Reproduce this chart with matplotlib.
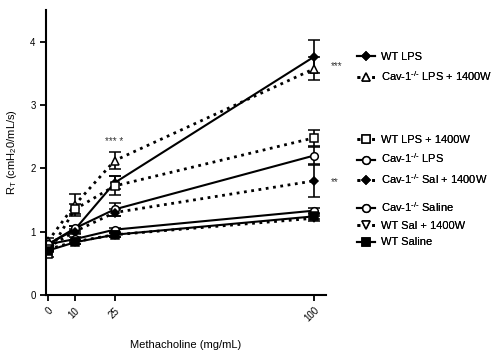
import numpy as np
import matplotlib
matplotlib.use("Agg")
import matplotlib.pyplot as plt

plt.rcParams['font.family'] = ['Liberation Sans', 'DejaVu Sans']
plt.rcParams['font.stretch'] = 'normal'
plt.rcParams['mathtext.fontset'] = 'custom'
plt.rcParams['mathtext.rm'] = 'Liberation Sans'
plt.rcParams['mathtext.it'] = 'Liberation Sans'
plt.rcParams['mathtext.default'] = 'regular'

dose = [0, 10, 25, 100]

wt_lps = [0.80, 1.03, 1.77, 3.76]
wt_lps_err = [0.04, 0.05, 0.10, 0.26]
cav_lps_1400w = [0.85, 1.42, 2.12, 3.57]
cav_lps_1400w_err = [0.05, 0.17, 0.13, 0.18]
wt_lps_1400w = [0.65, 1.35, 1.72, 2.48]
wt_lps_1400w_err = [0.05, 0.08, 0.15, 0.13]
cav_lps = [0.80, 1.05, 1.35, 2.20]
cav_lps_err = [0.04, 0.04, 0.10, 0.14]
cav_sal_1400w = [0.75, 1.00, 1.30, 1.80]
cav_sal_1400w_err = [0.04, 0.04, 0.06, 0.25]
cav_saline = [0.80, 0.88, 1.03, 1.33]
cav_saline_err = [0.03, 0.03, 0.03, 0.04]
wt_sal_1400w = [0.72, 0.84, 0.95, 1.21]
wt_sal_1400w_err = [0.03, 0.03, 0.03, 0.04]
wt_saline = [0.70, 0.83, 0.95, 1.24]
wt_saline_err = [0.03, 0.03, 0.03, 0.04]

ko = '$^{\u2010/\u2010}$'

fig = plt.figure(figsize=(5.0, 3.54), dpi=100)
ax = fig.add_axes([0.092, 0.167, 0.56, 0.805])

def draw(y, err, marker, face, ls, label):
    lw = 1.5 if ls == '-' else 2.0
    ms = 4.5 if marker == 'D' else 5.5
    h = ax.errorbar(dose, y, yerr=err, color='black', marker=marker,
                    markerfacecolor=face, markeredgecolor='black',
                    markersize=ms, markeredgewidth=1.1, linestyle=ls,
                    linewidth=lw, elinewidth=1.2, capsize=4, capthick=1.2)
    return (h[0], label)

h1 = draw(wt_lps, wt_lps_err, 'D', 'black', '-', 'WT LPS')
h2 = draw(cav_lps_1400w, cav_lps_1400w_err, '^', 'white', ':', 'Cav-1' + ko + ' LPS + 1400W')
h3 = draw(wt_lps_1400w, wt_lps_1400w_err, 's', 'white', ':', 'WT LPS + 1400W')
h4 = draw(cav_lps, cav_lps_err, 'o', 'white', '-', 'Cav-1' + ko + ' LPS')
h5 = draw(cav_sal_1400w, cav_sal_1400w_err, 'D', 'black', ':', 'Cav-1' + ko + ' Sal + 1400W')
h6 = draw(cav_saline, cav_saline_err, 'o', 'white', '-', 'Cav-1' + ko + ' Saline')
h7 = draw(wt_sal_1400w, wt_sal_1400w_err, 'v', 'white', ':', 'WT Sal + 1400W')
h8 = draw(wt_saline, wt_saline_err, 's', 'black', '-', 'WT Saline')

ax.set_xlim(-0.8, 104.5)
ax.set_ylim(0, 4.5)
ax.set_xticks(dose)
ax.set_xticklabels([str(d) for d in dose], rotation=45, fontsize=7,
                   ha='right', rotation_mode='anchor')
ax.set_yticks([0, 1, 2, 3, 4])
ax.tick_params(labelsize=7, width=1.3, length=4)
for s in ['top', 'right']:
    ax.spines[s].set_visible(False)
for s in ['left', 'bottom']:
    ax.spines[s].set_linewidth(1.5)

ax.set_xlabel('Methacholine (mg/mL)', fontsize=8, labelpad=12)
ax.set_ylabel('R$_T$ (cmH$_2$0/mL/s)', fontsize=8, labelpad=8)

ax.text(25, 2.33, '*** *', fontsize=7, ha='center', va='bottom', color='#333333')
ax.text(106.5, 3.62, '***', fontsize=7, ha='left', va='center', color='#333333', clip_on=False)
ax.text(106.5, 1.78, '**', fontsize=7, ha='left', va='center', color='#333333', clip_on=False)

groups = [([h1, h2], 0.866), ([h3, h4, h5], 0.632), ([h6, h7, h8], 0.448)]
for entries, top in groups:
    leg = fig.legend([e[0] for e in entries], [e[1] for e in entries],
                     loc='upper left', bbox_to_anchor=(0.705, top),
                     frameon=False, fontsize=8, handlelength=1.6,
                     handletextpad=0.6, labelspacing=0.62, borderaxespad=0)
    fig.add_artist(leg)

fig.savefig('out.png', dpi=100)
